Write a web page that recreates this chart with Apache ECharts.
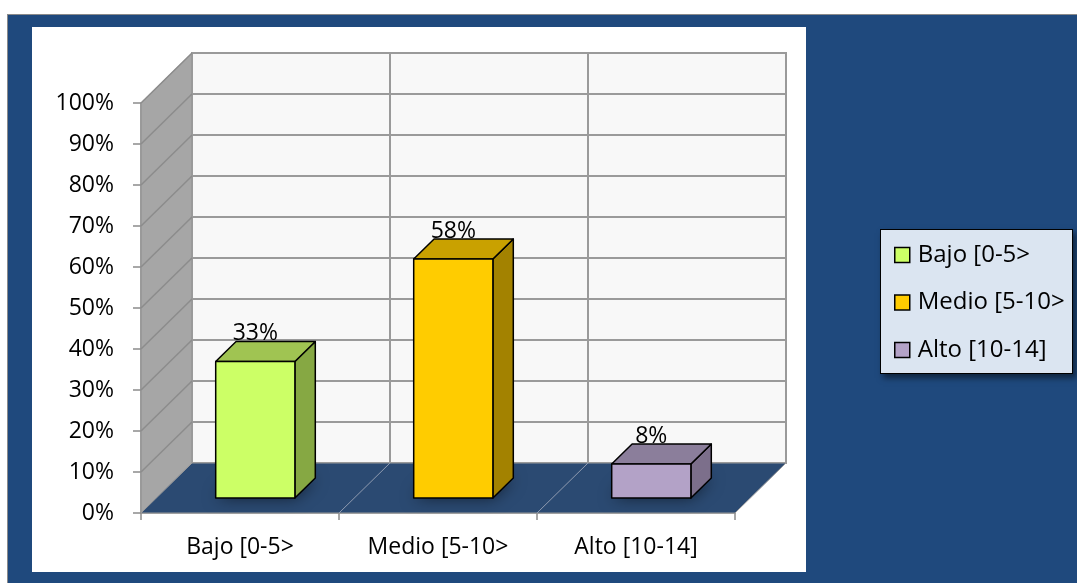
<!DOCTYPE html>
<html><head><meta charset="utf-8">
<script src="https://cdn.jsdelivr.net/npm/echarts@6/dist/echarts.min.js"></script>
<style>
html,body{margin:0;padding:0;background:#fff;}
#frame{position:absolute;left:7px;top:14px;width:1070px;height:569px;background:#1f497d;border-top:1px solid #8a8a8a;border-left:1px solid #8a8a8a;box-sizing:border-box;}
#panel{position:absolute;left:32px;top:27px;width:774px;height:545px;background:#fff;}
#legbox{position:absolute;left:880px;top:229px;width:193px;height:145px;background:#dbe5f1;border:1.5px solid #000;box-sizing:border-box;box-shadow:3px 4px 6px rgba(0,0,0,0.5);}
#c{position:absolute;left:0;top:0;width:1077px;height:583px;}
</style>
</head><body>
<div id="frame"></div><div id="panel"></div><div id="legbox"></div>
<div id="c"></div>
<script>
// ---- data ----
const categories = ['Bajo [0-5>', 'Medio [5-10>', 'Alto [10-14]'];
const values = [0.333, 0.583, 0.083];
const valueLabels = ['33%', '58%', '8%'];
const yTicks = [0, 0.1, 0.2, 0.3, 0.4, 0.5, 0.6, 0.7, 0.8, 0.9, 1.0];

// ---- styles ----
const frontColors = ['#ccff66', '#ffcc00', '#b3a2c7'];
const topColors = ['#a0c452', '#c9a100', '#8b7e9b'];
const sideColors = ['#86a843', '#a38200', '#7c6f8b'];
const FONT = '"Open Sans", "Noto Sans", sans-serif';
const D = { x: 51, y: -50 };       // depth vector of the 3D box
const BAR_OFF = 0.3, BAR_DEP = 0.4, BAR_W = 0.4;

function renderWalls(params, api) {
  const cs = params.coordSys;
  const x0 = cs.x, x1 = cs.x + cs.width, yT = cs.y, yB = cs.y + cs.height;
  const dx = D.x, dy = D.y;
  const ch = [];
  ch.push({ type: 'polygon', shape: { points: [[x0, yB], [x0, yT], [x0 + dx, yT + dy], [x0 + dx, yB + dy]] },
    style: { fill: '#a6a6a6', stroke: '#8c8c8c', lineWidth: 1 } });
  ch.push({ type: 'rect', shape: { x: x0 + dx, y: yT + dy, width: cs.width, height: cs.height },
    style: { fill: '#f8f8f8', stroke: '#9a9a9a', lineWidth: 2 } });
  yTicks.forEach(function (t) {
    if (t === 0) return;
    const y = api.coord([0, t])[1];
    ch.push({ type: 'line', shape: { x1: x0 + dx, y1: y + dy, x2: x1 + dx, y2: y + dy }, style: { stroke: '#9a9a9a', lineWidth: 2 } });
    ch.push({ type: 'line', shape: { x1: x0, y1: y, x2: x0 + dx, y2: y + dy }, style: { stroke: '#8c8c8c', lineWidth: 1.5 } });
  });
  const bw = api.size([1, 0])[0];
  for (let k = 1; k < categories.length; k++) {
    const xk = x0 + k * bw;
    ch.push({ type: 'line', shape: { x1: xk + dx, y1: yT + dy, x2: xk + dx, y2: yB + dy }, style: { stroke: '#9a9a9a', lineWidth: 2 } });
  }
  ch.push({ type: 'polygon', shape: { points: [[x0, yB], [x1, yB], [x1 + dx, yB + dy], [x0 + dx, yB + dy]] },
    style: { fill: '#2b4a72', stroke: '#9a9a9a', lineWidth: 1 } });
  for (let k = 1; k < categories.length; k++) {
    const xk = x0 + k * bw;
    ch.push({ type: 'line', shape: { x1: xk, y1: yB, x2: xk + dx, y2: yB + dy }, style: { stroke: '#8f9bb0', lineWidth: 1 } });
  }
  return { type: 'group', children: ch };
}

function makeBarRenderer(i) {
  return function (params, api) {
    const cat = api.value(0), v = api.value(1);
    const base = api.coord([cat, 0]), top = api.coord([cat, v]);
    const bw = api.size([1, 0])[0];
    const w = bw * BAR_W;
    const fx0 = base[0] - w / 2 + BAR_OFF * D.x, fx1 = fx0 + w;
    const fyB = base[1] + BAR_OFF * D.y, fyT = top[1] + BAR_OFF * D.y;
    const ddx = BAR_DEP * D.x, ddy = BAR_DEP * D.y;
    const stroke = { stroke: '#000', lineWidth: 1.5, lineJoin: 'round' };
    return { type: 'group', children: [
      { type: 'polygon', shape: { points: [[fx0, fyB], [fx1, fyB], [fx1 + ddx, fyB + ddy], [fx0 + ddx, fyB + ddy]] },
        style: { fill: 'rgba(15,25,45,0.6)', shadowBlur: 16, shadowColor: 'rgba(0,0,0,0.95)' } },
      { type: 'polygon', shape: { points: [[fx1, fyB], [fx1, fyT], [fx1 + ddx, fyT + ddy], [fx1 + ddx, fyB + ddy]] },
        style: Object.assign({ fill: sideColors[i] }, stroke) },
      { type: 'polygon', shape: { points: [[fx0, fyT], [fx1, fyT], [fx1 + ddx, fyT + ddy], [fx0 + ddx, fyT + ddy]] },
        style: Object.assign({ fill: topColors[i] }, stroke) },
      { type: 'rect', shape: { x: fx0, y: fyT, width: w, height: fyB - fyT },
        style: Object.assign({ fill: frontColors[i] }, stroke) },
      { type: 'text', style: { text: valueLabels[i], x: (fx0 + fx1) / 2, y: fyT - 28, fill: '#000',
        font: '23px ' + FONT, align: 'center', verticalAlign: 'middle' } }
    ] };
  };
}

const series = [{
  type: 'custom', name: '__walls', z: 1, silent: true,
  data: [[0, 0]], renderItem: renderWalls
}];
categories.forEach(function (c, i) {
  series.push({
    type: 'custom', name: c, z: 3,
    itemStyle: { color: frontColors[i] },
    data: [[i, values[i]]],
    renderItem: makeBarRenderer(i)
  });
});

const chart = echarts.init(document.getElementById('c'), null, { renderer: 'canvas' });
chart.setOption({
  backgroundColor: 'transparent',
  animation: false,
  textStyle: { fontFamily: FONT },
  grid: { left: 141, top: 103, width: 594, height: 410 },
  xAxis: {
    type: 'category', data: categories, boundaryGap: true,
    axisLine: { show: true, lineStyle: { color: '#8c8c8c', width: 1.5 } },
    axisTick: { show: true, length: 7, lineStyle: { color: '#8c8c8c', width: 1.5 } },
    axisLabel: { color: '#000', fontSize: 23, margin: 23, fontFamily: FONT },
    splitLine: { show: false }
  },
  yAxis: {
    type: 'value', min: 0, max: 1, interval: 0.1,
    axisLine: { show: true, lineStyle: { color: '#8c8c8c', width: 1.5 } },
    axisTick: { show: true, length: 8, lineStyle: { color: '#8c8c8c', width: 1.5 } },
    axisLabel: { color: '#000', fontSize: 23, margin: 27, fontFamily: FONT, padding: [4, 0, 0, 0],
      formatter: function (v) { return Math.round(v * 100) + '%'; } },
    splitLine: { show: false }
  },
  legend: {
    data: categories, orient: 'vertical', left: 894, top: 242, padding: 0,
    icon: 'rect', itemWidth: 15, itemHeight: 15, itemGap: 21.5,
    itemStyle: { borderColor: '#000', borderWidth: 1.5 },
    textStyle: { color: '#000', fontSize: 24, lineHeight: 26, fontFamily: FONT, padding: [0, 0, 0, 3] },
    selectedMode: false
  },
  series: series
});
</script>
</body></html>
